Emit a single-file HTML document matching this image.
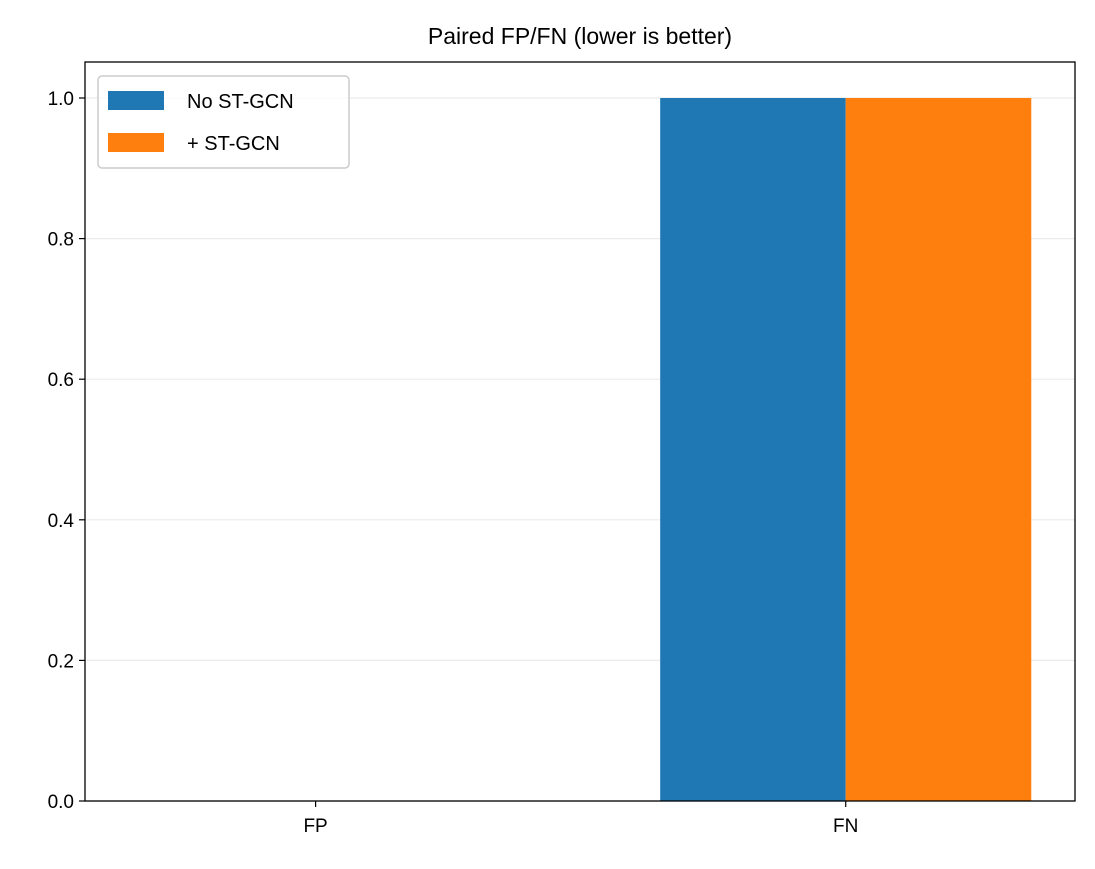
<!DOCTYPE html>
<html><head><meta charset="utf-8"><style>
html,body{margin:0;padding:0;background:#fff;}
svg{display:block;font-family:"Liberation Sans","DejaVu Sans",sans-serif;}
</style></head><body>
<svg id="chart" width="1095" height="869" viewBox="0 0 1095 869">
<rect x="0" y="0" width="1095" height="869" fill="#fff"/>
<text x="580" y="44" font-size="23" text-anchor="middle" fill="#000">Paired FP/FN (lower is better)</text>
<g id="grid"></g><g id="bars"></g><g id="axes"></g>
<g>
<rect x="98" y="76" width="251" height="92" rx="4" fill="#fff" fill-opacity="0.8" stroke="#ccc" stroke-width="1.5"/>
<g><rect x="108" y="91" width="56" height="19" fill="#1f77b4"/><text x="187" y="108" font-size="20">No ST-GCN</text></g>
<g><rect x="108" y="133" width="56" height="19" fill="#ff7f0e"/><text x="187" y="150" font-size="20">+ ST-GCN</text></g>
</g>
</svg>
<script>
const categories=["FP","FN"];
const seriesNames=["No ST-GCN","+ ST-GCN"];
const noStgcn=[0,1];
const plusStgcn=[0,1];
const yTicks=[0,0.2,0.4,0.6,0.8,1.0];
const colors=["#1f77b4","#ff7f0e"];
const L=85,R=1075,T=62,B=801,xmin=-0.435,xmax=1.4325,ymax=1.0512;
const xs=v=>L+(v-xmin)/(xmax-xmin)*(R-L);
const ys=v=>B-v/ymax*(B-T);
const NS="http://www.w3.org/2000/svg";
function mk(t,a,p){const e=document.createElementNS(NS,t);for(const k in a)e.setAttribute(k,a[k]);p.appendChild(e);return e;}
const grid=document.getElementById('grid'),bars=document.getElementById('bars'),axes=document.getElementById('axes');
yTicks.forEach(t=>{
 const g=mk('line',{x1:L,x2:R,y1:ys(t),y2:ys(t),stroke:'#ebebeb','stroke-width':1.2},grid);
 
 
 mk('line',{x1:L-6,x2:L,y1:ys(t),y2:ys(t),stroke:'#000','stroke-width':1.2},axes);
 const tx=mk('text',{x:L-11,y:ys(t)+7,'font-size':19,'text-anchor':'end'},axes);
 tx.textContent=t.toFixed(1);
 
 
});
const w=0.35;
[noStgcn,plusStgcn].forEach((s,si)=>{
 s.forEach((v,i)=>{
  const x0=i+(si===0?-w:0);
  const r=mk('rect',{x:xs(x0),y:ys(v),width:xs(x0+w)-xs(x0),height:B-ys(v),fill:colors[si]},bars);
  
  
 });
});
categories.forEach((c,i)=>{
 mk('line',{x1:xs(i),x2:xs(i),y1:B,y2:B+6,stroke:'#000','stroke-width':1.2},axes);
 const tx=mk('text',{x:xs(i),y:B+31,'font-size':19,'text-anchor':'middle'},axes);
 tx.textContent=c;
 
 
});
const fr=mk('rect',{x:L,y:T,width:R-L,height:B-T,fill:'none',stroke:'#000','stroke-width':1.3},axes);


</script>
</body></html>
